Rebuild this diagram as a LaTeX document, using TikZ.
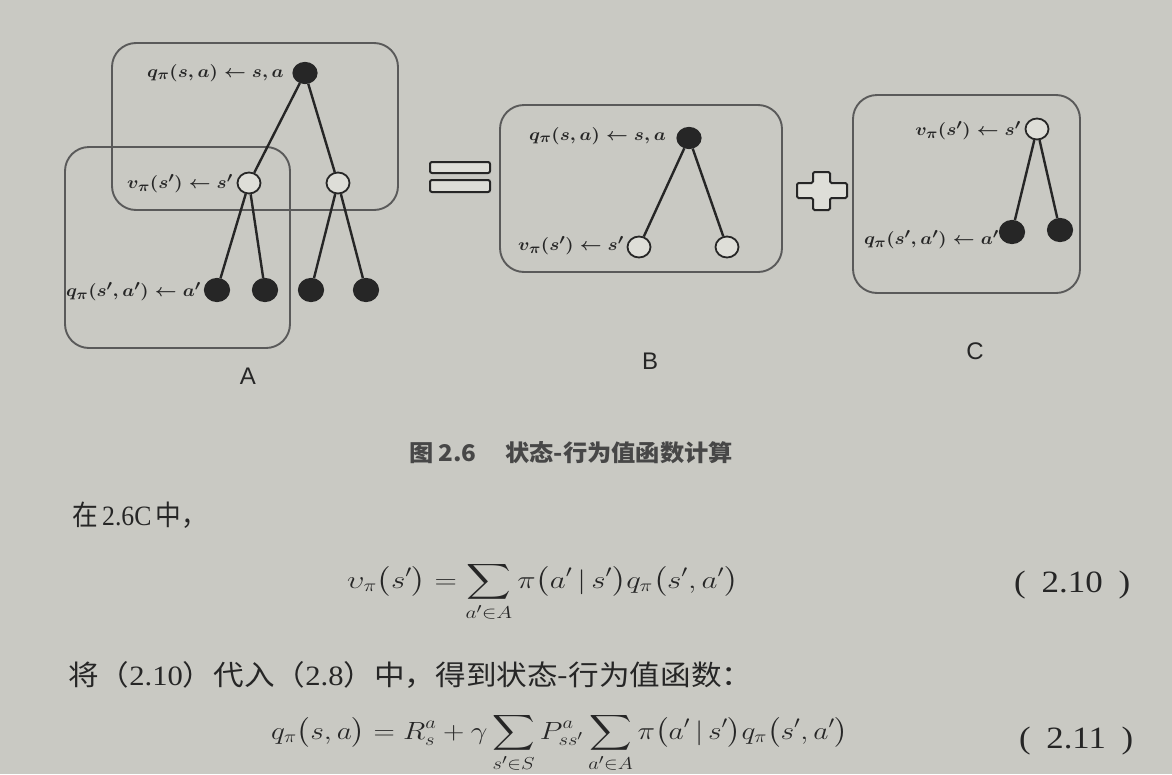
\documentclass[tikz,border=0pt]{standalone}
\usepackage{amsmath}
\usepackage{exscale}
\usepackage{fontspec}
\setmainfont{Liberation Serif}
\setsansfont{Liberation Sans}
\newfontfamily\cjk{Noto Sans CJK SC}
\usetikzlibrary{shapes.geometric}
\definecolor{pagebg}{RGB}{201,201,195}
\definecolor{ink}{RGB}{38,38,38}
\definecolor{boxc}{RGB}{90,90,90}
\definecolor{holl}{RGB}{222,222,216}
\newcommand{\wlab}[1]{\scalebox{1.1}[1]{#1}}
\begin{document}
\begin{tikzpicture}[x=1pt,y=-1pt,
  fnode/.style={ellipse,draw=ink,fill=ink,line width=1.2pt,minimum width=24pt,minimum height=21pt,inner sep=0pt},
  onode/.style={ellipse,draw=ink,fill=holl,line width=1.8pt,minimum width=23pt,minimum height=21pt,inner sep=0pt},
  leaf/.style={fnode,minimum width=25pt,minimum height=23pt},
  edge/.style={draw=ink,line width=2.4pt},
  frame/.style={draw=boxc,line width=1.9pt,rounded corners=24pt},
  lab/.style={text=ink,inner sep=0pt,font=\boldmath\fontsize{19}{19}\selectfont},
  letter/.style={text=ink,inner sep=0pt,font=\sffamily\fontsize{24}{24}\selectfont},
  txt/.style={text=ink,inner sep=0pt,font=\fontsize{28}{28}\selectfont},
  eqno/.style={text=ink,inner sep=0pt,font=\fontsize{31}{31}\selectfont},
  eqn/.style={text=ink,inner sep=0pt,font=\fontsize{27}{27}\selectfont},
  sym/.style={draw=ink,line width=2pt,fill=holl}
]
\useasboundingbox (0,0) rectangle (1172,774);
\clip (0,0) rectangle (1172,774);
\fill[pagebg] (0,0) rectangle (1172,774);

% ---------- A ----------
\draw[frame] (112,43) rectangle (398,210);
\draw[frame] (65,147) rectangle (290,348);
\node[fnode] (ar) at (305,73) {};
\node[onode] (al) at (249,183) {};
\node[onode] (aq) at (338,183) {};
\node[leaf] (l1) at (217,290) {};
\node[leaf] (l2) at (265,290) {};
\node[leaf] (l3) at (311,290) {};
\node[leaf] (l4) at (366,290) {};
\draw[edge] (ar) -- (al);
\draw[edge] (ar) -- (aq);
\draw[edge] (al) -- (l1);
\draw[edge] (al) -- (l2);
\draw[edge] (aq) -- (l3);
\draw[edge] (aq) -- (l4);
\node[lab,anchor=east] (la1) at (284,73) {\wlab{$q_\pi(s,a)\leftarrow s,a$}};
\node[lab,anchor=east] (la2) at (233,184) {\wlab{$v_\pi(s')\leftarrow s'$}};
\node[lab,anchor=east] (la3) at (201,292) {\wlab{$q_\pi(s',a')\leftarrow a'$}};
\node[letter] (tA) at (248,376) {A};

% ---------- equals ----------
\draw[sym,rounded corners=2pt] (430,162) rectangle (490,173);
\draw[sym,rounded corners=2pt] (430,180) rectangle (490,192);

% ---------- B ----------
\draw[frame] (500,105) rectangle (782,272);
\node[fnode] (br) at (689,138) {};
\node[onode] (b1) at (639,247) {};
\node[onode] (b2) at (727,247) {};
\draw[edge] (br) -- (b1);
\draw[edge] (br) -- (b2);
\node[lab,anchor=east] (lb1) at (666,136) {\wlab{$q_\pi(s,a)\leftarrow s,a$}};
\node[lab,anchor=east] (lb2) at (624,246) {\wlab{$v_\pi(s')\leftarrow s'$}};
\node[letter] (tB) at (650,361) {B};

% ---------- plus ----------
\draw[sym,rounded corners=1.5pt] (813,172) -- (830,172) -- (830,183) -- (847,183) -- (847,198)
  -- (830,198) -- (830,210) -- (813,210) -- (813,198) -- (797,198) -- (797,183) -- (813,183) -- cycle;

% ---------- C ----------
\draw[frame] (853,95) rectangle (1080,293);
\node[onode] (cr) at (1037,129) {};
\node[leaf] (c1) at (1012,232) {};
\node[leaf] (c2) at (1060,230) {};
\draw[edge] (cr) -- (c1);
\draw[edge] (cr) -- (c2);
\node[lab,anchor=east] (lc1) at (1021,131) {\wlab{$v_\pi(s')\leftarrow s'$}};
\node[lab,anchor=east] (lc2) at (999,240) {\wlab{$q_\pi(s',a')\leftarrow a'$}};
\node[letter] (tC) at (975,351) {C};

% ---------- caption and text ----------
\node[anchor=base,inner sep=0pt,font=\cjk\bfseries\fontsize{23}{23}\selectfont,text=ink!85!white] (cap) at (571.5,461)
  {\resizebox{323pt}{\height}{图\,2.6\hspace{1.2em}状态-行为值函数计算}};
\node[txt,anchor=base west] (t1) at (72,525) {\resizebox{135pt}{\height}{{\cjk 在}\,2.6C\,{\cjk 中，}}};
\node[eqn,anchor=base west] (e1) at (347,588) {\resizebox{391pt}{\height}{$\displaystyle \upsilon_\pi\bigl(s'\bigr)=\sum_{a'\in A}\pi\bigl(a'\,|\,s'\bigr)q_\pi\bigl(s',a'\bigr)$}};
\node[eqno,anchor=base west] (n1) at (1014,592) {\resizebox{116pt}{\height}{(\hspace{0.45em}2.10\hspace{0.45em})}};
\node[txt,anchor=base west] (t2) at (68,685) {\resizebox{684pt}{\height}{{\cjk 将（}2.10{\cjk ）代入（}2.8{\cjk ）中，得到状态-行为值函数：}}};
\node[eqn,anchor=base west] (e2) at (271,739) {\resizebox{577pt}{\height}{$\displaystyle q_\pi\bigl(s,a\bigr)=R_s^a+\gamma\sum_{s'\in S}P_{ss'}^a\sum_{a'\in A}\pi\bigl(a'\,|\,s'\bigr)q_\pi\bigl(s',a'\bigr)$}};
\node[eqno,anchor=base west] (n2) at (1019,748) {\resizebox{114pt}{\height}{(\hspace{0.45em}2.11\hspace{0.45em})}};
\end{tikzpicture}
\end{document}
